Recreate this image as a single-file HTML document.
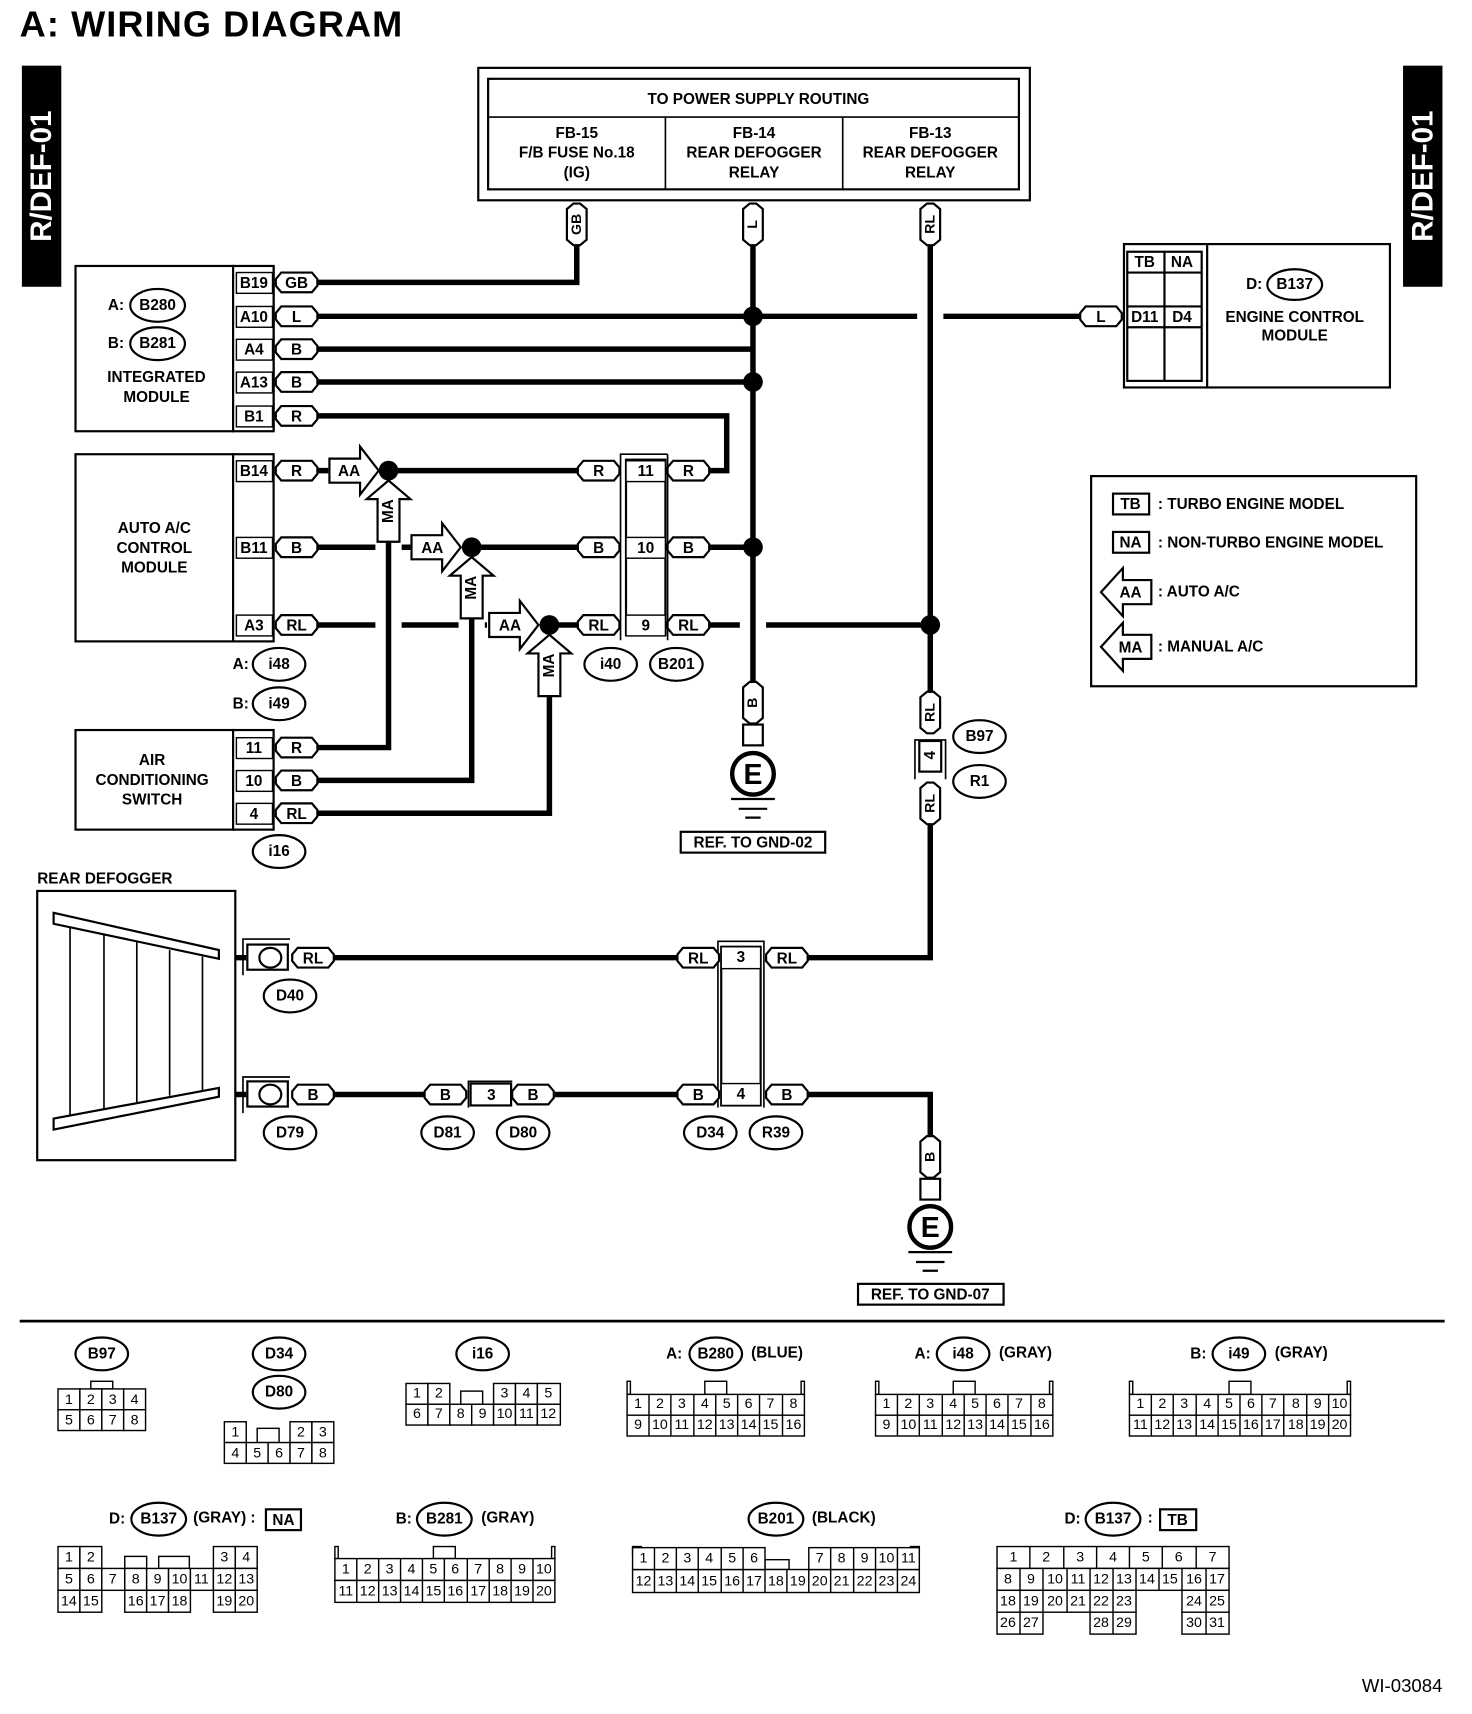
<!DOCTYPE html>
<html><head><meta charset="utf-8"><style>
html,body{margin:0;padding:0;background:#fff;}
svg{display:block}
text{font-family:"Liberation Sans",sans-serif;font-size:14px;font-weight:bold;fill:#000;text-anchor:middle;dominant-baseline:central;}
.b{font-weight:bold}
.s{font-size:13px}
.l{text-anchor:start}
.w{stroke:#000;stroke-width:5;fill:none}
.t{stroke:#000;stroke-width:2;fill:#fff}
.n{stroke:#000;stroke-width:1.5;fill:none}
.g rect{stroke:#000;stroke-width:1.3;fill:#fff}
.g text{font-size:13px;font-weight:normal}
</style></head><body>
<svg width="1472" height="1714" viewBox="0 0 1345 1566" preserveAspectRatio="none" xmlns="http://www.w3.org/2000/svg">
<defs>
<g id="pill"><path d="M-14,-9H14L19,-3V3L14,9H-14L-19,3V-3Z" fill="#fff" stroke="#000" stroke-width="2"/></g>
<g id="vpill"><path d="M-9,-14V14L-3,19H3L9,14V-14L3,-19H-3Z" fill="#fff" stroke="#000" stroke-width="2"/></g>
<g id="aa"><path d="M0,-11H28V-22L45,0L28,22V11H0Z" fill="#fff" stroke="#000" stroke-width="2"/></g>
<g id="ma"><path d="M0,0L20,17H10V56H-10V17H-20Z" fill="#fff" stroke="#000" stroke-width="2"/></g>
<g id="la"><path d="M0,0L20,-22V-11H46V11H20V22Z" fill="#fff" stroke="#000" stroke-width="2"/></g>
</defs>

<text x="18" y="22" class="l b" style="font-size:33px;letter-spacing:1px">A:  WIRING DIAGRAM</text>
<rect x="20" y="60" width="36" height="202" fill="#000"/>
<text transform="translate(38,161) rotate(-90)" class="b" style="font-size:27px;fill:#fff">R/DEF-01</text>
<rect x="1282" y="60" width="36" height="202" fill="#000"/>
<text transform="translate(1300,161) rotate(-90)" class="b" style="font-size:27px;fill:#fff">R/DEF-01</text>

<!-- top box -->
<rect x="437" y="62" width="504" height="121" class="t"/>
<rect x="446" y="72" width="485" height="101" class="t"/>
<line x1="446" y1="107" x2="931" y2="107" class="n" stroke-width="2"/>
<line x1="608" y1="107" x2="608" y2="173" class="n" stroke-width="2"/>
<line x1="770" y1="107" x2="770" y2="173" class="n" stroke-width="2"/>
<text x="693" y="91">TO POWER SUPPLY ROUTING</text>
<text x="527" y="122">FB-15</text><text x="527" y="140">F/B FUSE No.18</text><text x="527" y="158">(IG)</text>
<text x="689" y="122">FB-14</text><text x="689" y="140">REAR DEFOGGER</text><text x="689" y="158">RELAY</text>
<text x="850" y="122">FB-13</text><text x="850" y="140">REAR DEFOGGER</text><text x="850" y="158">RELAY</text>

<!-- wires -->
<path class="w" d="M290,258H527V224"/>
<path class="w" d="M290,289H838M862,289H987"/>
<path class="w" d="M688,224V625"/>
<path class="w" d="M290,319H688"/>
<path class="w" d="M290,349H688"/>
<path class="w" d="M290,380H664V430H648"/>
<path class="w" d="M850,224V632"/>
<path class="w" d="M290,430H300M355,430H528"/>
<path class="w" d="M290,500H343M367,500H375M431,500H528M648,500H688"/>
<path class="w" d="M290,571H343M367,571H419M443,571H445M502,571H528M648,571H676M700,571H850"/>
<path class="w" d="M355,488V683H290"/>
<path class="w" d="M431,555V713H290"/>
<path class="w" d="M502,627V743H290"/>
<path class="w" d="M850,752V875H738"/>
<path class="w" d="M305,875H620"/>
<path class="w" d="M200,875H225M200,1000H225"/>
<path class="w" d="M305,1000H388M507,1000H620M738,1000H850V1040"/>
<circle cx="688" cy="289" r="9"/><circle cx="688" cy="349" r="9"/><circle cx="688" cy="500" r="9"/>
<circle cx="850" cy="571" r="9"/>
<circle cx="355" cy="430" r="9"/><circle cx="431" cy="500" r="9"/><circle cx="502" cy="571" r="9"/>

<use href="#vpill" x="527" y="205"/><text transform="translate(527,205) rotate(-90)" class="s">GB</text>
<use href="#vpill" x="688" y="205"/><text transform="translate(688,205) rotate(-90)" class="s">L</text>
<use href="#vpill" x="850" y="205"/><text transform="translate(850,205) rotate(-90)" class="s">RL</text>

<!-- Integrated module -->
<rect x="69" y="243" width="144" height="151" class="t"/>
<rect x="213" y="243" width="37" height="151" class="t"/>
<line x1="250" y1="243" x2="250" y2="394" stroke="#000" stroke-width="2"/>
<text x="106" y="279">A:</text><ellipse cx="144" cy="279" rx="25" ry="15" class="t"/><text x="144" y="279">B280</text>
<text x="106" y="314">B:</text><ellipse cx="144" cy="314" rx="25" ry="15" class="t"/><text x="144" y="314">B281</text>
<text x="143" y="345">INTEGRATED</text><text x="143" y="363">MODULE</text>
<g class="g">
<rect x="216" y="249" width="33" height="19"/><rect x="216" y="280" width="33" height="19"/><rect x="216" y="310" width="33" height="19"/><rect x="216" y="340" width="33" height="19"/><rect x="216" y="371" width="33" height="19"/>
</g>
<text x="232" y="259">B19</text><text x="232" y="290">A10</text><text x="232" y="320">A4</text><text x="232" y="350">A13</text><text x="232" y="381">B1</text>
<use href="#pill" x="271" y="258"/><text x="271" y="259">GB</text>
<use href="#pill" x="271" y="289"/><text x="271" y="290">L</text>
<use href="#pill" x="271" y="319"/><text x="271" y="320">B</text>
<use href="#pill" x="271" y="349"/><text x="271" y="350">B</text>
<use href="#pill" x="271" y="380"/><text x="271" y="381">R</text>

<!-- Auto AC -->
<rect x="69" y="415" width="144" height="171" class="t"/>
<rect x="213" y="415" width="37" height="171" class="t"/>
<text x="141" y="483">AUTO A/C</text><text x="141" y="501">CONTROL</text><text x="141" y="519">MODULE</text>
<g class="g"><rect x="216" y="421" width="33" height="19"/><rect x="216" y="491" width="33" height="19"/><rect x="216" y="562" width="33" height="19"/></g>
<text x="232" y="431">B14</text><text x="232" y="501">B11</text><text x="232" y="572">A3</text>
<use href="#pill" x="271" y="430"/><text x="271" y="431">R</text>
<use href="#pill" x="271" y="500"/><text x="271" y="501">B</text>
<use href="#pill" x="271" y="571"/><text x="271" y="572">RL</text>
<text x="220" y="607">A:</text><ellipse cx="255" cy="607" rx="24" ry="15" class="t"/><text x="255" y="607">i48</text>
<text x="220" y="643">B:</text><ellipse cx="255" cy="643" rx="24" ry="15" class="t"/><text x="255" y="643">i49</text>

<use href="#aa" x="301" y="430"/><text x="319" y="431">AA</text>
<use href="#aa" x="376" y="500"/><text x="395" y="501">AA</text>
<use href="#aa" x="447" y="571"/><text x="466" y="572">AA</text>
<use href="#ma" x="355" y="439"/><text transform="translate(355,467) rotate(-90)">MA</text>
<use href="#ma" x="431" y="509"/><text transform="translate(431,537) rotate(-90)">MA</text>
<use href="#ma" x="502" y="580"/><text transform="translate(502,608) rotate(-90)">MA</text>

<!-- B201 connector -->
<path d="M567,585V415H610M610,585V415" class="n" stroke-width="2"/>
<rect x="572" y="420" width="36" height="160" class="t"/>
<g class="g"><rect x="572" y="421" width="36" height="19"/><rect x="572" y="491" width="36" height="19"/><rect x="572" y="562" width="36" height="19"/></g>
<text x="590" y="431">11</text><text x="590" y="501">10</text><text x="590" y="572">9</text>
<use href="#pill" x="547" y="430"/><text x="547" y="431">R</text>
<use href="#pill" x="629" y="430"/><text x="629" y="431">R</text>
<use href="#pill" x="547" y="500"/><text x="547" y="501">B</text>
<use href="#pill" x="629" y="500"/><text x="629" y="501">B</text>
<use href="#pill" x="547" y="571"/><text x="547" y="572">RL</text>
<use href="#pill" x="629" y="571"/><text x="629" y="572">RL</text>
<ellipse cx="558" cy="607" rx="24" ry="15" class="t"/><text x="558" y="607">i40</text>
<ellipse cx="618" cy="607" rx="24" ry="15" class="t"/><text x="618" y="607">B201</text>

<!-- Air conditioning switch -->
<rect x="69" y="667" width="144" height="91" class="t"/>
<rect x="213" y="667" width="37" height="91" class="t"/>
<text x="139" y="695">AIR</text><text x="139" y="713">CONDITIONING</text><text x="139" y="731">SWITCH</text>
<g class="g"><rect x="216" y="674" width="33" height="19"/><rect x="216" y="704" width="33" height="19"/><rect x="216" y="734" width="33" height="19"/></g>
<text x="232" y="684">11</text><text x="232" y="714">10</text><text x="232" y="744">4</text>
<use href="#pill" x="271" y="683"/><text x="271" y="684">R</text>
<use href="#pill" x="271" y="713"/><text x="271" y="714">B</text>
<use href="#pill" x="271" y="743"/><text x="271" y="744">RL</text>
<ellipse cx="255" cy="778" rx="24" ry="15" class="t"/><text x="255" y="778">i16</text>

<!-- ground 02 -->
<use href="#vpill" x="688" y="642"/><text transform="translate(688,642) rotate(-90)" class="s">B</text>
<rect x="679" y="662" width="18" height="19" class="t"/>
<circle cx="688" cy="707" r="19" fill="#fff" stroke="#000" stroke-width="4"/>
<text x="688" y="708" class="b" style="font-size:26px">E</text>
<path d="M668,730H708M675,739H701M681,747H695" stroke="#000" stroke-width="2"/>
<rect x="622" y="760" width="132" height="19" class="t"/><text x="688" y="770">REF. TO GND-02</text>

<!-- RL B97 -->
<use href="#vpill" x="850" y="651"/><text transform="translate(850,651) rotate(-90)" class="s">RL</text>
<path d="M836,712V676H864V712" class="n" stroke-width="2"/>
<rect x="840" y="677" width="20" height="28" class="t"/><text transform="translate(850,690) rotate(-90)">4</text>
<use href="#vpill" x="850" y="734"/><text transform="translate(850,734) rotate(-90)" class="s">RL</text>
<ellipse cx="895" cy="673" rx="24" ry="15" class="t"/><text x="895" y="673">B97</text>
<ellipse cx="895" cy="714" rx="24" ry="15" class="t"/><text x="895" y="714">R1</text>

<!-- ECM -->
<rect x="1027" y="223" width="243" height="131" class="t"/>
<line x1="1103" y1="223" x2="1103" y2="354" stroke="#000" stroke-width="2"/>
<rect x="1030" y="230" width="68" height="118" class="t"/>
<line x1="1064" y1="230" x2="1064" y2="348" stroke="#000" stroke-width="2"/>
<path d="M1030,249H1098M1030,280H1098M1030,299H1098" stroke="#000" stroke-width="2"/>
<text x="1046" y="240">TB</text><text x="1080" y="240">NA</text>
<text x="1046" y="290">D11</text><text x="1080" y="290">D4</text>
<use href="#pill" x="1006" y="289"/><text x="1006" y="290">L</text>
<text x="1146" y="260">D:</text><ellipse cx="1183" cy="260" rx="25" ry="14" class="t"/><text x="1183" y="260">B137</text>
<text x="1183" y="290">ENGINE CONTROL</text><text x="1183" y="307">MODULE</text>

<!-- legend -->
<rect x="997" y="435" width="297" height="192" class="t"/>
<rect x="1017" y="451" width="33" height="19" class="t"/><text x="1033" y="461">TB</text>
<text x="1058" y="461" class="l">: TURBO ENGINE MODEL</text>
<rect x="1017" y="486" width="33" height="19" class="t"/><text x="1033" y="496">NA</text>
<text x="1058" y="496" class="l">: NON-TURBO ENGINE MODEL</text>
<use href="#la" x="1006" y="541"/><text x="1033" y="542">AA</text>
<text x="1058" y="541" class="l">: AUTO A/C</text>
<use href="#la" x="1006" y="591"/><text x="1033" y="592">MA</text>
<text x="1058" y="591" class="l">: MANUAL A/C</text>

<!-- rear defogger -->
<text x="34" y="803" class="l">REAR DEFOGGER</text>
<rect x="34" y="814" width="181" height="246" class="t"/>
<path d="M49,834L200,868L200,876L49,844Z" class="t" stroke-width="1.5"/>
<path d="M49,1022L200,994L200,1002L49,1032Z" class="t" stroke-width="1.5"/>
<path d="M64,847V1020M95,854V1013M125,861V1007M155,868V1001M185,874V996" stroke="#000" stroke-width="1.5"/>
<path d="M222,891V858H265M222,1017V984H265" class="n" stroke-width="2"/>
<rect x="226" y="863" width="37" height="23" class="t"/><ellipse cx="247" cy="875" rx="10" ry="9" class="t"/>
<rect x="226" y="988" width="37" height="23" class="t"/><ellipse cx="247" cy="1000" rx="10" ry="9" class="t"/>
<use href="#pill" x="286" y="875"/><text x="286" y="876">RL</text>
<use href="#pill" x="286" y="1000"/><text x="286" y="1001">B</text>
<ellipse cx="265" cy="910" rx="24" ry="15" class="t"/><text x="265" y="910">D40</text>
<ellipse cx="265" cy="1035" rx="24" ry="15" class="t"/><text x="265" y="1035">D79</text>

<use href="#pill" x="407" y="1000"/><text x="407" y="1001">B</text>
<path d="M428,1012V988H468" class="n" stroke-width="2"/>
<rect x="430" y="990" width="37" height="20" class="t"/><text x="449" y="1001">3</text>
<use href="#pill" x="487" y="1000"/><text x="487" y="1001">B</text>
<ellipse cx="409" cy="1035" rx="24" ry="15" class="t"/><text x="409" y="1035">D81</text>
<ellipse cx="478" cy="1035" rx="24" ry="15" class="t"/><text x="478" y="1035">D80</text>

<path d="M656,1012V860H698V1012" class="n" stroke-width="2"/>
<rect x="659" y="865" width="36" height="145" class="t"/>
<g class="g"><rect x="659" y="865" width="36" height="20"/><rect x="659" y="990" width="36" height="20"/></g>
<text x="677" y="875">3</text><text x="677" y="1000">4</text>
<use href="#pill" x="638" y="875"/><text x="638" y="876">RL</text>
<use href="#pill" x="719" y="875"/><text x="719" y="876">RL</text>
<use href="#pill" x="638" y="1000"/><text x="638" y="1001">B</text>
<use href="#pill" x="719" y="1000"/><text x="719" y="1001">B</text>
<ellipse cx="649" cy="1035" rx="24" ry="15" class="t"/><text x="649" y="1035">D34</text>
<ellipse cx="709" cy="1035" rx="24" ry="15" class="t"/><text x="709" y="1035">R39</text>

<!-- ground 07 -->
<use href="#vpill" x="850" y="1057"/><text transform="translate(850,1057) rotate(-90)" class="s">B</text>
<rect x="841" y="1077" width="18" height="19" class="t"/>
<circle cx="850" cy="1121" r="19" fill="#fff" stroke="#000" stroke-width="4"/>
<text x="850" y="1122" class="b" style="font-size:26px">E</text>
<path d="M830,1144H870M837,1153H863M843,1161H857" stroke="#000" stroke-width="2"/>
<rect x="784" y="1173" width="133" height="19" class="t"/><text x="850" y="1183">REF. TO GND-07</text>

<line x1="18" y1="1207" x2="1320" y2="1207" stroke="#000" stroke-width="2.5"/>

<!-- connector diagrams -->
<ellipse cx="93" cy="1237" rx="24" ry="15" class="t"/><text x="93" y="1237">B97</text>
<g class="g">
<rect x="83" y="1262" width="20" height="7"/>
<rect x="53" y="1269" width="20" height="19"/><rect x="73" y="1269" width="20" height="19"/><rect x="93" y="1269" width="20" height="19"/><rect x="113" y="1269" width="20" height="19"/>
<rect x="53" y="1288" width="20" height="19"/><rect x="73" y="1288" width="20" height="19"/><rect x="93" y="1288" width="20" height="19"/><rect x="113" y="1288" width="20" height="19"/>
<text x="63" y="1279">1</text><text x="83" y="1279">2</text><text x="103" y="1279">3</text><text x="123" y="1279">4</text>
<text x="63" y="1298">5</text><text x="83" y="1298">6</text><text x="103" y="1298">7</text><text x="123" y="1298">8</text>
</g>

<ellipse cx="255" cy="1237" rx="24" ry="15" class="t"/><text x="255" y="1237">D34</text>
<ellipse cx="255" cy="1272" rx="24" ry="15" class="t"/><text x="255" y="1272">D80</text>
<g class="g">
<rect x="235" y="1305" width="20" height="13"/>
<rect x="205" y="1299" width="20" height="19"/><rect x="265" y="1299" width="20" height="19"/><rect x="285" y="1299" width="20" height="19"/>
<rect x="205" y="1318" width="20" height="19"/><rect x="225" y="1318" width="20" height="19"/><rect x="245" y="1318" width="20" height="19"/><rect x="265" y="1318" width="20" height="19"/><rect x="285" y="1318" width="20" height="19"/>
<text x="215" y="1309">1</text><text x="275" y="1309">2</text><text x="295" y="1309">3</text>
<text x="215" y="1328">4</text><text x="235" y="1328">5</text><text x="255" y="1328">6</text><text x="275" y="1328">7</text><text x="295" y="1328">8</text>
</g>

<ellipse cx="441" cy="1237" rx="24" ry="15" class="t"/><text x="441" y="1237">i16</text>
<g class="g">
<rect x="421" y="1271" width="20" height="12"/>
<rect x="371" y="1264" width="20" height="19"/><rect x="391" y="1264" width="20" height="19"/><rect x="451" y="1264" width="20" height="19"/><rect x="471" y="1264" width="20" height="19"/><rect x="491" y="1264" width="21" height="19"/>
<rect x="371" y="1283" width="20" height="19"/><rect x="391" y="1283" width="20" height="19"/><rect x="411" y="1283" width="20" height="19"/><rect x="431" y="1283" width="20" height="19"/><rect x="451" y="1283" width="20" height="19"/><rect x="471" y="1283" width="20" height="19"/><rect x="491" y="1283" width="21" height="19"/>
<text x="381" y="1273">1</text><text x="401" y="1273">2</text><text x="461" y="1273">3</text><text x="481" y="1273">4</text><text x="501" y="1273">5</text>
<text x="381" y="1292">6</text><text x="401" y="1292">7</text><text x="421" y="1292">8</text><text x="441" y="1292">9</text><text x="461" y="1292">10</text><text x="481" y="1292">11</text><text x="501" y="1292">12</text>
</g>

<!-- B280 / i48 -->
<text x="616" y="1237">A:</text><ellipse cx="654" cy="1237" rx="24" ry="15" class="t"/><text x="654" y="1237">B280</text><text x="710" y="1236" class="b">(BLUE)</text>
<g class="g">
<rect x="573" y="1262" width="3" height="12"/><rect x="732" y="1262" width="3" height="12"/><rect x="644" y="1262" width="20" height="12"/>
<rect x="573" y="1274" width="162" height="19"/><rect x="573" y="1293" width="162" height="19"/>
</g>
<path d="M593,1274V1312M613,1274V1312M634,1274V1312M654,1274V1312M674,1274V1312M694,1274V1312M715,1274V1312" stroke="#000" stroke-width="1.3"/>
<g class="g"><text x="583" y="1283">1</text><text x="603" y="1283">2</text><text x="623" y="1283">3</text><text x="644" y="1283">4</text><text x="664" y="1283">5</text><text x="684" y="1283">6</text><text x="704" y="1283">7</text><text x="725" y="1283">8</text>
<text x="583" y="1302">9</text><text x="603" y="1302">10</text><text x="623" y="1302">11</text><text x="644" y="1302">12</text><text x="664" y="1302">13</text><text x="684" y="1302">14</text><text x="704" y="1302">15</text><text x="725" y="1302">16</text></g>

<text x="843" y="1237">A:</text><ellipse cx="880" cy="1237" rx="24" ry="15" class="t"/><text x="880" y="1237">i48</text><text x="937" y="1236" class="b">(GRAY)</text>
<g class="g">
<rect x="800" y="1262" width="3" height="12"/><rect x="959" y="1262" width="3" height="12"/><rect x="871" y="1262" width="20" height="12"/>
<rect x="800" y="1274" width="162" height="19"/><rect x="800" y="1293" width="162" height="19"/>
</g>
<path d="M820,1274V1312M840,1274V1312M861,1274V1312M881,1274V1312M901,1274V1312M921,1274V1312M942,1274V1312" stroke="#000" stroke-width="1.3"/>
<g class="g"><text x="810" y="1283">1</text><text x="830" y="1283">2</text><text x="850" y="1283">3</text><text x="871" y="1283">4</text><text x="891" y="1283">5</text><text x="911" y="1283">6</text><text x="931" y="1283">7</text><text x="952" y="1283">8</text>
<text x="810" y="1302">9</text><text x="830" y="1302">10</text><text x="850" y="1302">11</text><text x="871" y="1302">12</text><text x="891" y="1302">13</text><text x="911" y="1302">14</text><text x="931" y="1302">15</text><text x="952" y="1302">16</text></g>

<text x="1095" y="1237">B:</text><ellipse cx="1132" cy="1237" rx="24" ry="15" class="t"/><text x="1132" y="1237">i49</text><text x="1189" y="1236" class="b">(GRAY)</text>
<g class="g">
<rect x="1032" y="1262" width="3" height="12"/><rect x="1231" y="1262" width="3" height="12"/><rect x="1123" y="1262" width="20" height="12"/>
<rect x="1032" y="1274" width="202" height="19"/><rect x="1032" y="1293" width="202" height="19"/>
</g>
<path d="M1052,1274V1312M1072,1274V1312M1093,1274V1312M1113,1274V1312M1133,1274V1312M1153,1274V1312M1173,1274V1312M1194,1274V1312M1214,1274V1312" stroke="#000" stroke-width="1.3"/>
<g class="g"><text x="1042" y="1283">1</text><text x="1062" y="1283">2</text><text x="1082" y="1283">3</text><text x="1103" y="1283">4</text><text x="1123" y="1283">5</text><text x="1143" y="1283">6</text><text x="1163" y="1283">7</text><text x="1184" y="1283">8</text><text x="1204" y="1283">9</text><text x="1224" y="1283">10</text>
<text x="1042" y="1302">11</text><text x="1062" y="1302">12</text><text x="1082" y="1302">13</text><text x="1103" y="1302">14</text><text x="1123" y="1302">15</text><text x="1143" y="1302">16</text><text x="1163" y="1302">17</text><text x="1184" y="1302">18</text><text x="1204" y="1302">19</text><text x="1224" y="1302">20</text></g>

<!-- B137 NA -->
<text x="107" y="1388">D:</text><ellipse cx="145" cy="1388" rx="25" ry="15" class="t"/><text x="145" y="1388">B137</text>
<text x="205" y="1387" class="b">(GRAY) :</text>
<rect x="243" y="1379" width="32" height="19" class="t"/><text x="259" y="1389" class="b">NA</text>
<g class="g">
<rect x="114" y="1422" width="20" height="11"/><rect x="145" y="1422" width="28" height="11"/>
<rect x="53" y="1413" width="20" height="20"/><rect x="73" y="1413" width="20" height="20"/><rect x="195" y="1413" width="20" height="20"/><rect x="215" y="1413" width="20" height="20"/>
<rect x="53" y="1433" width="20" height="20"/><rect x="73" y="1433" width="20" height="20"/><rect x="93" y="1433" width="21" height="20"/><rect x="114" y="1433" width="20" height="20"/><rect x="134" y="1433" width="20" height="20"/><rect x="154" y="1433" width="20" height="20"/><rect x="174" y="1433" width="21" height="20"/><rect x="195" y="1433" width="20" height="20"/><rect x="215" y="1433" width="20" height="20"/>
<rect x="53" y="1453" width="20" height="20"/><rect x="73" y="1453" width="20" height="20"/><rect x="114" y="1453" width="20" height="20"/><rect x="134" y="1453" width="20" height="20"/><rect x="154" y="1453" width="20" height="20"/><rect x="195" y="1453" width="20" height="20"/><rect x="215" y="1453" width="20" height="20"/>
<text x="63" y="1423">1</text><text x="83" y="1423">2</text><text x="205" y="1423">3</text><text x="225" y="1423">4</text>
<text x="63" y="1443">5</text><text x="83" y="1443">6</text><text x="103" y="1443">7</text><text x="124" y="1443">8</text><text x="144" y="1443">9</text><text x="164" y="1443">10</text><text x="184" y="1443">11</text><text x="205" y="1443">12</text><text x="225" y="1443">13</text>
<text x="63" y="1463">14</text><text x="83" y="1463">15</text><text x="124" y="1463">16</text><text x="144" y="1463">17</text><text x="164" y="1463">18</text><text x="205" y="1463">19</text><text x="225" y="1463">20</text>
</g>

<!-- B281 -->
<text x="369" y="1388">B:</text><ellipse cx="406" cy="1388" rx="25" ry="15" class="t"/><text x="406" y="1388">B281</text><text x="464" y="1387" class="b">(GRAY)</text>
<g class="g">
<rect x="306" y="1413" width="3" height="11"/><rect x="504" y="1413" width="3" height="11"/><rect x="396" y="1413" width="20" height="11"/>
<rect x="306" y="1424" width="201" height="20"/><rect x="306" y="1444" width="201" height="20"/>
</g>
<path d="M326,1424V1464M346,1424V1464M366,1424V1464M386,1424V1464M406,1424V1464M427,1424V1464M447,1424V1464M467,1424V1464M487,1424V1464" stroke="#000" stroke-width="1.3"/>
<g class="g"><text x="316" y="1434">1</text><text x="336" y="1434">2</text><text x="356" y="1434">3</text><text x="376" y="1434">4</text><text x="396" y="1434">5</text><text x="416" y="1434">6</text><text x="437" y="1434">7</text><text x="457" y="1434">8</text><text x="477" y="1434">9</text><text x="497" y="1434">10</text>
<text x="316" y="1454">11</text><text x="336" y="1454">12</text><text x="356" y="1454">13</text><text x="376" y="1454">14</text><text x="396" y="1454">15</text><text x="416" y="1454">16</text><text x="437" y="1454">17</text><text x="457" y="1454">18</text><text x="477" y="1454">19</text><text x="497" y="1454">20</text></g>

<!-- B201 -->
<ellipse cx="709" cy="1388" rx="25" ry="15" class="t"/><text x="709" y="1388">B201</text><text x="771" y="1387" class="b">(BLACK)</text>
<g class="g">
<rect x="578" y="1413" width="8" height="7"/><rect x="832" y="1413" width="8" height="7"/><rect x="699" y="1425" width="22" height="9"/>
<rect x="578" y="1434" width="262" height="21"/>
<rect x="578" y="1414" width="121" height="20"/><rect x="739" y="1414" width="101" height="20"/>
</g>
<path d="M598,1414V1455M618,1414V1455M638,1414V1455M659,1414V1455M679,1414V1455M699,1434V1455M719,1434V1455M739,1434V1455M759,1414V1455M780,1414V1455M800,1414V1455M820,1414V1455" stroke="#000" stroke-width="1.3"/>
<g class="g"><text x="588" y="1424">1</text><text x="608" y="1424">2</text><text x="628" y="1424">3</text><text x="648" y="1424">4</text><text x="669" y="1424">5</text><text x="689" y="1424">6</text><text x="749" y="1424">7</text><text x="769" y="1424">8</text><text x="790" y="1424">9</text><text x="810" y="1424">10</text><text x="830" y="1424">11</text>
<text x="588" y="1445">12</text><text x="608" y="1445">13</text><text x="628" y="1445">14</text><text x="648" y="1445">15</text><text x="669" y="1445">16</text><text x="689" y="1445">17</text><text x="709" y="1445">18</text><text x="729" y="1445">19</text><text x="749" y="1445">20</text><text x="769" y="1445">21</text><text x="790" y="1445">22</text><text x="810" y="1445">23</text><text x="830" y="1445">24</text></g>

<!-- B137 TB -->
<text x="980" y="1388">D:</text><ellipse cx="1017" cy="1388" rx="25" ry="15" class="t"/><text x="1017" y="1388">B137</text>
<text x="1051" y="1387" class="b">:</text>
<rect x="1060" y="1379" width="33" height="19" class="t"/><text x="1076" y="1389" class="b">TB</text>
<g class="g">
<rect x="911" y="1413" width="212" height="20"/>
<rect x="911" y="1433" width="212" height="20"/>
<rect x="911" y="1453" width="127" height="20"/><rect x="1080" y="1453" width="43" height="20"/>
<rect x="911" y="1473" width="42" height="20"/><rect x="996" y="1473" width="42" height="20"/><rect x="1080" y="1473" width="43" height="20"/>
</g>
<path d="M941,1413V1433M972,1413V1433M1002,1413V1433M1032,1413V1433M1062,1413V1433M1093,1413V1433" stroke="#000" stroke-width="1.3"/>
<path d="M932,1433V1493M953,1433V1473M975,1433V1473M996,1433V1473M1017,1433V1493M1038,1433V1453M1059,1433V1453M1080,1433V1453M1102,1433V1493" stroke="#000" stroke-width="1.3"/>
<g class="g"><text x="926" y="1423">1</text><text x="956" y="1423">2</text><text x="987" y="1423">3</text><text x="1017" y="1423">4</text><text x="1047" y="1423">5</text><text x="1077" y="1423">6</text><text x="1108" y="1423">7</text>
<text x="921" y="1443">8</text><text x="942" y="1443">9</text><text x="964" y="1443">10</text><text x="985" y="1443">11</text><text x="1006" y="1443">12</text><text x="1027" y="1443">13</text><text x="1048" y="1443">14</text><text x="1069" y="1443">15</text><text x="1091" y="1443">16</text><text x="1112" y="1443">17</text>
<text x="921" y="1463">18</text><text x="942" y="1463">19</text><text x="964" y="1463">20</text><text x="985" y="1463">21</text><text x="1006" y="1463">22</text><text x="1027" y="1463">23</text><text x="1091" y="1463">24</text><text x="1112" y="1463">25</text>
<text x="921" y="1483">26</text><text x="942" y="1483">27</text><text x="1006" y="1483">28</text><text x="1027" y="1483">29</text><text x="1091" y="1483">30</text><text x="1112" y="1483">31</text></g>

<text x="1318" y="1540" style="text-anchor:end;font-size:17px;font-weight:normal">WI-03084</text>
</svg>
</body></html>
